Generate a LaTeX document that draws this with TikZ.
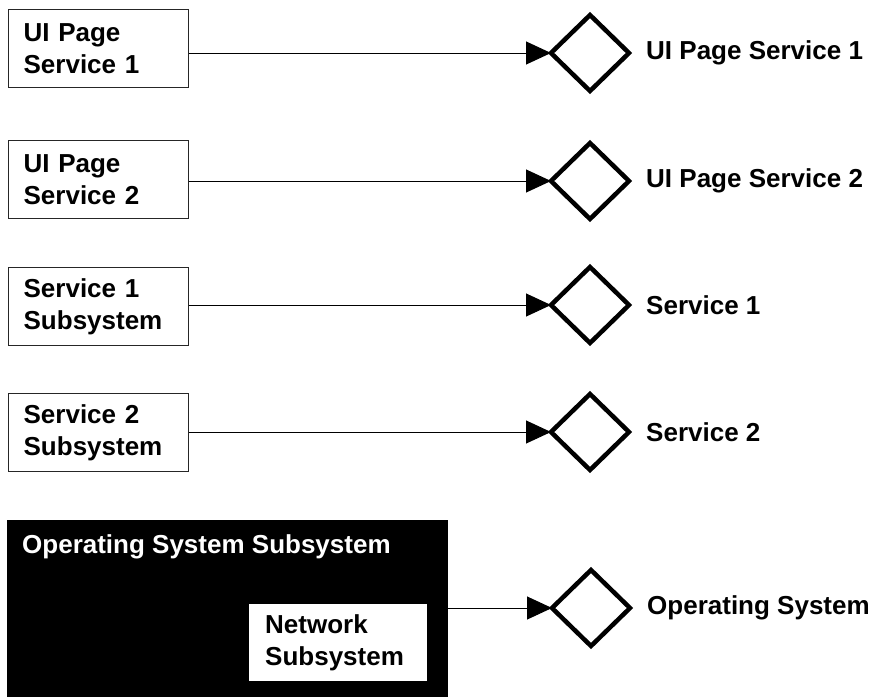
\documentclass[tikz,border=0pt]{standalone}
\usepackage{fontspec}
\setmainfont{Liberation Sans}
\usetikzlibrary{shapes.geometric,arrows.meta}
\tikzset{
  lbl/.style={font=\fontsize{26}{32}\selectfont\bfseries},
  box/.style={lbl,draw=black!85,line width=1.3pt,fill=white,anchor=north west,
    minimum width=180pt,minimum height=78pt,text width=150pt,align=left,
    inner xsep=15pt,inner ysep=0pt},
  dia/.style={diamond,draw,line width=4.5pt,minimum width=78pt,minimum height=76pt,
    inner sep=0pt,outer sep=0pt},
  conn/.style={line width=1pt,-{Triangle[length=25pt,width=23pt]}},
  rlabel/.style={lbl,anchor=west,inner sep=0pt,xshift=17pt}}
\begin{document}
\begin{tikzpicture}[x=1pt,y=-1pt]
\useasboundingbox (0,0) rectangle (877,696);
% rows
\node[box] (b1) at (8,9) {UI Page\\Service 1};
\node[box] (b2) at (8,140) {UI Page\\Service 2};
\node[box] (b3) at (8,267) {Service 1\\Subsystem};
\node[box] (b4) at (8,393) {Service 2\\Subsystem};
\node[dia] (d1) at (590,53) {};
\node[dia] (d2) at (590,181) {};
\node[dia] (d3) at (590,305) {};
\node[dia] (d4) at (590,432) {};
\node[dia] (d5) at (591,608) {};
\node[rlabel] (n1) at (d1.east) {UI Page Service 1};
\node[rlabel] (n2) at (d2.east) {UI Page Service 2};
\node[rlabel] (n3) at (d3.east) {Service 1};
\node[rlabel] (n4) at (d4.east) {Service 2};
\node[rlabel] (n5) at (d5.east) {Operating System};
% OS subsystem
\node[fill=black,draw=black,anchor=north west,minimum width=440pt,minimum height=185pt,inner sep=0pt] (os) at (7,520) {};
\node[lbl,text=white,anchor=base west,inner sep=0pt] (ost) at (22,553) {Operating System Subsystem};
\node[lbl,fill=white,anchor=north west,minimum width=178pt,minimum height=77pt,
  text width=146pt,align=left,inner xsep=16pt,inner ysep=0pt] (net) at (249,604) {Network\\Subsystem};
% connectors
\draw[conn] (b1.east |- d1.west) -- (d1.west);
\draw[conn] (b2.east |- d2.west) -- (d2.west);
\draw[conn] (b3.east |- d3.west) -- (d3.west);
\draw[conn] (b4.east |- d4.west) -- (d4.west);
\draw[conn] (os.east |- d5.west) -- (d5.west);
\end{tikzpicture}
\end{document}
